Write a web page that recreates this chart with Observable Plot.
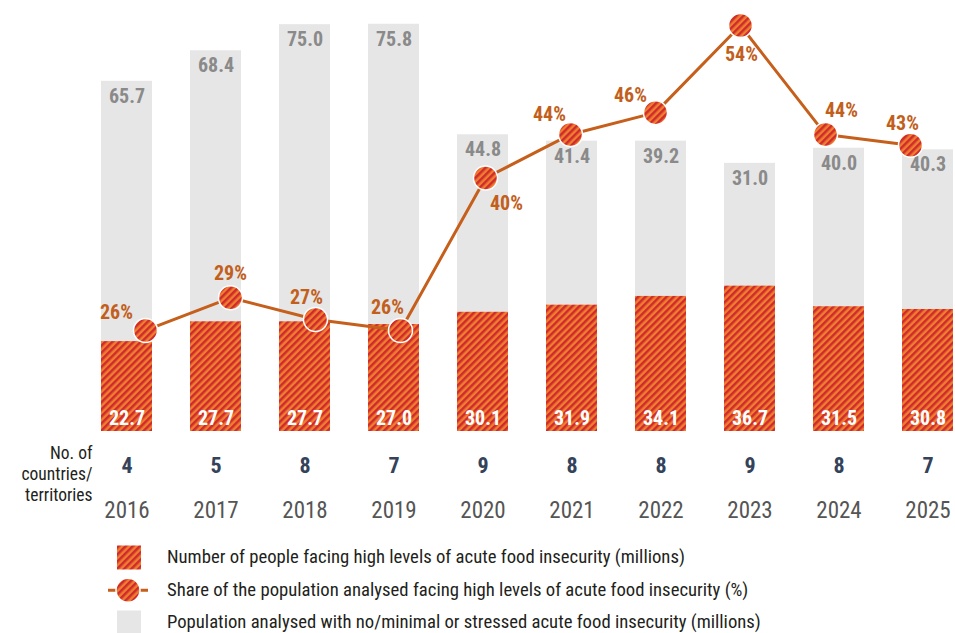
<!DOCTYPE html>
<html>
<head>
<meta charset="utf-8">
<script src="https://cdn.jsdelivr.net/npm/d3@7"></script>
<script src="https://cdn.jsdelivr.net/npm/@observablehq/plot@0.6"></script>
<style>
  html, body { margin: 0; padding: 0; background: #fff; }
  body { width: 955px; height: 633px; overflow: hidden; position: relative;
    font-family: "Roboto Condensed", "Liberation Sans Narrow", "DejaVu Sans Condensed", Roboto, sans-serif; }
  #chart { position: relative; width: 955px; height: 530px; }
  #chart svg { position: absolute; left: 0; top: 0; overflow: visible; }
  #legend { position: absolute; left: 0; top: 541px; width: 955px; }
  .item { height: 32.5px; display: flex; align-items: center; font-size: 18.7px; color: #231f20; }
  .item svg { width: 50px; height: 32.5px; margin-left: 108px; margin-right: 9px; flex: none; }
</style>
</head>
<body>
<svg width="0" height="0" style="position:absolute">
  <defs>
    <pattern id="hatch" width="5" height="10" patternUnits="userSpaceOnUse" patternTransform="rotate(45)">
      <rect width="5" height="10" fill="#f07e2f"/>
      <rect width="2.5" height="10" fill="#cf2a2d"/>
    </pattern>
  </defs>
</svg>
<div id="chart"></div>
<div id="legend">
  <div class="item"><svg viewBox="0 0 50 32.5"><rect x="9" y="4.5" width="24" height="24" fill="url(#hatch)"/></svg><span>Number of people facing high levels of acute food insecurity (millions)</span></div>
  <div class="item"><svg viewBox="0 0 50 32.5"><line x1="0" x2="40" y1="16.25" y2="16.25" stroke="#c55f1b" stroke-width="3"/><circle cx="20" cy="16.25" r="12" fill="url(#hatch)" stroke="#fff" stroke-width="1.5"/></svg><span>Share of the population analysed facing high levels of acute food insecurity (%)</span></div>
  <div class="item"><svg viewBox="0 0 50 32.5"><rect x="9" y="4.5" width="24" height="24" fill="#e6e6e6"/></svg><span>Population analysed with no/minimal or stressed acute food insecurity (millions)</span></div>
</div>
<script>
// ---- data ----
const years = [2016, 2017, 2018, 2019, 2020, 2021, 2022, 2023, 2024, 2025];
const peopleHigh = [22.7, 27.7, 27.7, 27.0, 30.1, 31.9, 34.1, 36.7, 31.5, 30.8];
const peopleOther = [65.7, 68.4, 75.0, 75.8, 44.8, 41.4, 39.2, 31.0, 40.0, 40.3];
const sharePct = [26, 29, 27, 26, 40, 44, 46, 54, 44, 43];
const countries = [4, 5, 8, 7, 9, 8, 8, 9, 8, 7];

const rows = years.map((year, i) => ({
  year: String(year),
  high: peopleHigh[i],
  other: peopleOther[i],
  total: peopleHigh[i] + peopleOther[i],
  share: sharePct[i],
  countries: countries[i]
}));

const FONT = '"Roboto Condensed", "Liberation Sans Narrow", "DejaVu Sans Condensed", Roboto, sans-serif';
const W = 955, H = 530;
const common = {
  width: W, height: H,
  marginLeft: 99, marginRight: 0, marginTop: 0, marginBottom: 99,
  style: { fontFamily: FONT, background: "transparent", overflow: "visible" },
  x: { domain: years.map(String), paddingInner: 0.43, paddingOuter: 0, axis: null }
};

// ---- bars plot ----
const bars = Plot.plot({
  ...common,
  y: { domain: [0, 108.8], axis: null },
  marks: [
    Plot.barY(rows, { x: "year", y1: "high", y2: "total", fill: "#e6e6e6" }),
    Plot.barY(rows, { x: "year", y1: 0, y2: "high", fill: "url(#hatch)" }),
    Plot.ruleY([0], { stroke: "#111", strokeWidth: 2, x1: null }),
    Plot.text(rows, { x: "year", y: "total", text: d => d.other.toFixed(1), dy: 15,
      fill: "#8a8a8a", fontWeight: "bold", fontSize: 20 }),
    Plot.text(rows, { x: "year", y: 0, text: d => d.high.toFixed(1), dy: -13,
      fill: "#fff", fontWeight: "bold", fontSize: 20 }),
    Plot.text(rows, { x: "year", y: 0, text: "countries", dy: 34,
      fill: "#34425a", fontWeight: "bold", fontSize: 22 }),
    Plot.axisX({ label: null, tickSize: 0, tickPadding: 70, fontSize: 23, color: "#555", fill: "#555" }),
    Plot.text(["No. of\ncountries/\nterritories"], { frameAnchor: "bottom-left", dx: -7, dy: 42,
      textAnchor: "end", lineAnchor: "middle", lineHeight: 1.2, fontSize: 17.5, fill: "#231f20" })
  ]
});

// ---- line plot (overlay with its own y scale) ----
const labelOffset = {
  "2016": [-29, -18], "2017": [0, -24], "2018": [-9, -22], "2019": [-13, -23],
  "2020": [21, 26], "2021": [-21, -20], "2022": [-25, -17], "2023": [1, 29],
  "2024": [16, -24], "2025": [-8, -22]
};
const line = Plot.plot({
  ...common,
  y: { domain: [16.72, 56.3], axis: null },
  marks: [
    Plot.line(rows, { x: "year", y: "share", stroke: "#c55f1b", strokeWidth: 3 }),
    Plot.dot(rows, { x: "year", y: "share", r: 12, fill: "url(#hatch)", stroke: "#fff", strokeWidth: 1.5 }),
    ...rows.map(r => Plot.text([r], { x: "year", y: "share", text: d => d.share + "%",
      dx: labelOffset[r.year][0], dy: labelOffset[r.year][1],
      fill: "#c25f1c", fontWeight: "bold", fontSize: 20 }))
  ]
});

const chart = document.getElementById("chart");
chart.appendChild(bars);
chart.appendChild(line);
</script>
</body>
</html>
